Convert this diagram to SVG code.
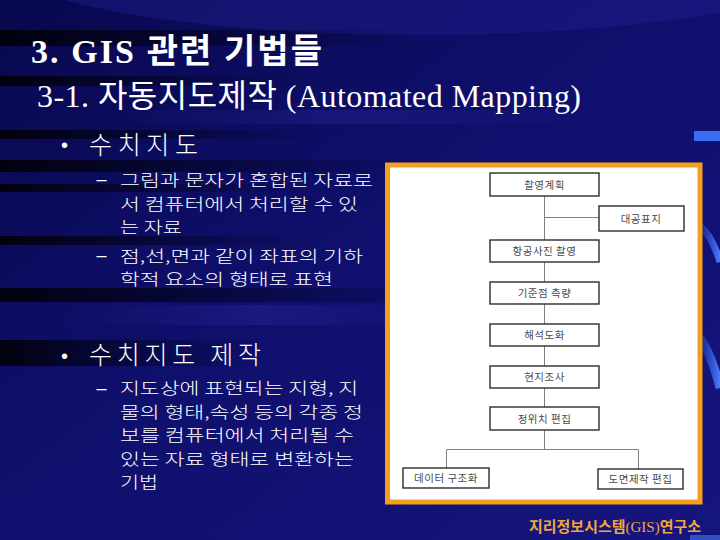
<svg xmlns="http://www.w3.org/2000/svg" width="720" height="540" viewBox="0 0 720 540">
<defs>
<linearGradient id="bg" x1="0" y1="0" x2="1" y2="1">
<stop offset="0" stop-color="#08084e"/>
<stop offset="0.45" stop-color="#0f0f6c"/>
<stop offset="1" stop-color="#15157e"/>
</linearGradient>
<linearGradient id="streak" x1="0" y1="0" x2="1" y2="0">
<stop offset="0" stop-color="#000000" stop-opacity="0.85"/>
<stop offset="0.5" stop-color="#000010" stop-opacity="0.45"/>
<stop offset="1" stop-color="#000020" stop-opacity="0"/>
</linearGradient>
<linearGradient id="lite" x1="0" y1="0" x2="1" y2="0">
<stop offset="0" stop-color="#2a2aa0" stop-opacity="0"/>
<stop offset="0.5" stop-color="#2a2aa0" stop-opacity="0.35"/>
<stop offset="1" stop-color="#2a2aa0" stop-opacity="0"/>
</linearGradient>
<linearGradient id="swoosh" x1="0" y1="0" x2="1" y2="0">
<stop offset="0" stop-color="#2f5fe8" stop-opacity="0.2"/>
<stop offset="1" stop-color="#4a7cff" stop-opacity="1"/>
</linearGradient>
<style>
.ttl{font-family:"Liberation Serif","Noto Sans CJK KR",serif;fill:#ffffff}
.kr{font-family:"Noto Sans CJK KR","Liberation Sans",sans-serif;fill:#ffffff;font-weight:300}
.dash{font-family:"Liberation Sans",sans-serif;fill:#ffffff;font-size:18px}
.bul{font-family:"Liberation Sans",sans-serif;fill:#ffffff;font-size:20px}
.l1{font-size:25px}
.l2{font-size:16.2px}
.box{fill:#ffffff;stroke:#2b2b2b;stroke-width:1.4}
.bt{font-family:"Noto Sans CJK KR","Liberation Sans",sans-serif;font-size:10.5px;fill:#4a4a4a;text-anchor:middle;letter-spacing:0.5px}
.con{stroke:#808080;stroke-width:1;fill:none}
</style>
</defs>

<!-- background -->
<rect width="720" height="540" fill="url(#bg)"/>
<ellipse cx="420" cy="-40" rx="420" ry="75" fill="#1e1e8e" opacity="0.45"/>
<rect x="0" y="30" width="420" height="16" fill="url(#streak)"/>
<rect x="0" y="76" width="300" height="10" fill="url(#streak)"/>
<rect x="0" y="130" width="320" height="9" fill="url(#streak)"/>
<rect x="0" y="160" width="420" height="12" fill="url(#streak)"/>
<rect x="0" y="184" width="300" height="8" fill="url(#streak)"/>
<rect x="0" y="236" width="320" height="9" fill="url(#streak)"/>
<rect x="0" y="288" width="460" height="14" fill="url(#streak)"/>
<rect x="0" y="340" width="260" height="26" fill="url(#streak)"/>
<rect x="100" y="110" width="500" height="14" fill="url(#lite)"/>
<rect x="60" y="305" width="400" height="20" fill="url(#lite)"/>
<rect x="694" y="131" width="26" height="10" fill="#3a6cf0"/>
<path d="M700,226 Q712,236 720,262" stroke="url(#swoosh)" stroke-width="7" fill="none"/>
<path d="M700,338 Q712,356 720,388" stroke="url(#swoosh)" stroke-width="9" fill="none"/>
<rect x="690" y="535" width="30" height="5" fill="#3a5fd0" opacity="0.8"/>

<!-- titles -->
<text class="ttl" x="31" y="63" font-size="34" font-weight="bold" textLength="291" lengthAdjust="spacing">3. GIS 관련 기법들</text>
<text class="ttl" x="37" y="107" font-size="32" textLength="544" lengthAdjust="spacing">3-1. 자동지도제작 (Automated Mapping)</text>

<!-- left text -->
<text class="bul" x="61" y="152">•</text>
<text class="kr l1" x="89" y="154" textLength="109" lengthAdjust="spacing">수치지도</text>
<text class="dash" x="96.5" y="185">–</text>
<text class="kr l2" x="120" y="186" textLength="253" lengthAdjust="spacingAndGlyphs">그림과 문자가 혼합된 자료로</text>
<text class="kr l2" x="120" y="209.5" textLength="238" lengthAdjust="spacingAndGlyphs">서 컴퓨터에서 처리할 수 있</text>
<text class="kr l2" x="120" y="233" textLength="62" lengthAdjust="spacingAndGlyphs">는 자료</text>
<text class="dash" x="96.5" y="261">–</text>
<text class="kr l2" x="120" y="261.5" textLength="243" lengthAdjust="spacingAndGlyphs">점,선,면과 같이 좌표의 기하</text>
<text class="kr l2" x="120" y="285" textLength="213" lengthAdjust="spacingAndGlyphs">학적 요소의 형태로 표현</text>

<text class="bul" x="61" y="363">•</text>
<text class="kr l1" x="89" y="364" textLength="172" lengthAdjust="spacing">수치지도 제작</text>
<text class="dash" x="96.5" y="393.5">–</text>
<text class="kr l2" x="120" y="394" textLength="238" lengthAdjust="spacingAndGlyphs">지도상에 표현되는 지형, 지</text>
<text class="kr l2" x="120" y="417.5" textLength="243" lengthAdjust="spacingAndGlyphs">물의 형태,속성 등의 각종 정</text>
<text class="kr l2" x="120" y="441" textLength="234" lengthAdjust="spacingAndGlyphs">보를 컴퓨터에서 처리될 수</text>
<text class="kr l2" x="120" y="464.5" textLength="234" lengthAdjust="spacingAndGlyphs">있는 자료 형태로 변환하는</text>
<text class="kr l2" x="120" y="488" textLength="38" lengthAdjust="spacingAndGlyphs">기법</text>

<!-- panel -->
<rect x="387.5" y="165" width="312.5" height="337" fill="#ffffff" stroke="#f2a01e" stroke-width="5"/>

<!-- connectors -->
<g id="connectors">
<line class="con" x1="544.5" y1="196" x2="544.5" y2="240"/>
<line class="con" x1="544.5" y1="217.5" x2="599" y2="217.5"/>
<line class="con" x1="544.5" y1="262" x2="544.5" y2="282"/>
<line class="con" x1="544.5" y1="304" x2="544.5" y2="324"/>
<line class="con" x1="544.5" y1="346" x2="544.5" y2="366"/>
<line class="con" x1="544.5" y1="388" x2="544.5" y2="407"/>
<line class="con" x1="544.5" y1="430" x2="544.5" y2="449.5"/>
<polyline class="con" points="446.5,468 446.5,449.5 638.5,449.5 638.5,469"/>
</g>

<!-- nodes -->
<g id="n-plan"><rect class="box" x="490" y="173" width="109" height="23"/><text class="bt" x="544.5" y="188.5">촬영계획</text></g>
<g id="n-target"><rect class="box" x="599" y="206" width="85" height="25"/><text class="bt" x="641" y="222.5">대공표지</text></g>
<g id="n-photo"><rect class="box" x="490" y="240" width="109" height="22"/><text class="bt" x="544.5" y="255">항공사진 촬영</text></g>
<g id="n-control"><rect class="box" x="490" y="282" width="109" height="22"/><text class="bt" x="544.5" y="297">기준점 측량</text></g>
<g id="n-plot"><rect class="box" x="490" y="324" width="109" height="22"/><text class="bt" x="544.5" y="339">해석도화</text></g>
<g id="n-field"><rect class="box" x="490" y="366" width="109" height="22"/><text class="bt" x="544.5" y="381">현지조사</text></g>
<g id="n-edit"><rect class="box" x="490" y="407" width="109" height="23"/><text class="bt" x="544.5" y="422.5">정위치 편집</text></g>
<g id="n-struct"><rect class="box" x="403" y="468" width="86" height="20"/><text class="bt" x="446" y="482">데이터 구조화</text></g>
<g id="n-map"><rect class="box" x="598" y="469" width="85" height="20"/><text class="bt" x="640.5" y="483">도면제작 편집</text></g>

<!-- footer -->
<text x="529" y="532" font-family="'Noto Sans CJK KR','Liberation Serif',sans-serif" font-size="15" font-weight="bold" fill="#f2a63a" textLength="172" lengthAdjust="spacingAndGlyphs">지리정보시스템<tspan font-family="'Liberation Serif',serif" font-weight="normal">(GIS)</tspan>연구소</text>
</svg>
